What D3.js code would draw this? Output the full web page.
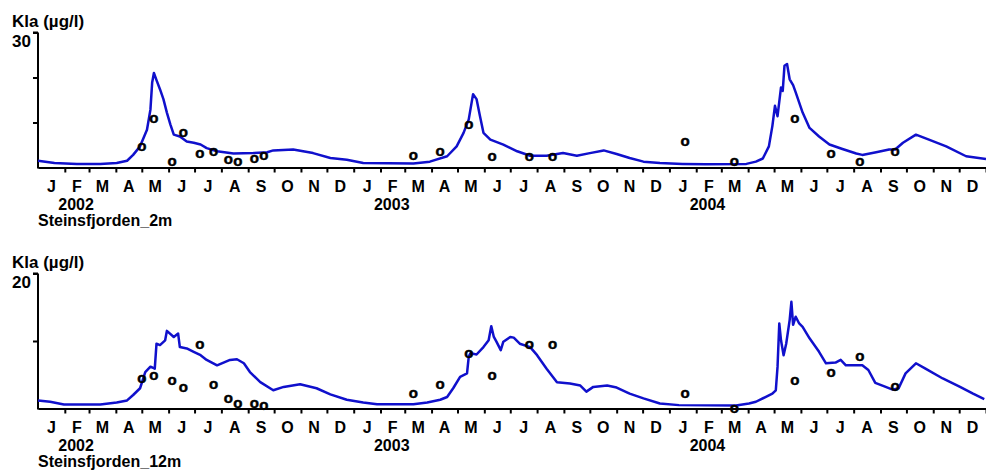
<!DOCTYPE html>
<html>
<head>
<meta charset="utf-8">
<script src="https://cdn.jsdelivr.net/npm/d3@7"></script>
<style>
  body { margin: 0; background: #fff; }
  svg text { font-family: "Liberation Sans", Arial, sans-serif; font-weight: bold; fill: #000; }
</style>
</head>
<body>
<div id="container"></div>
<script>
// sample dates (same for both depths)
var obsDates = ["2002-05-01","2002-05-15","2002-06-05","2002-06-18","2002-07-07","2002-07-23",
  "2002-08-09","2002-08-20","2002-09-08","2002-09-19",
  "2003-03-11","2003-04-11","2003-05-14","2003-06-10","2003-07-23","2003-08-19",
  "2004-01-19","2004-03-16","2004-05-25","2004-07-06","2004-08-08","2004-09-18"];

var obs2m = [4.7, 10.9, 1.3, 7.7, 3.1, 3.6, 1.7, 1.3, 2.1, 2.6,
  2.7, 3.6, 9.6, 2.5, 2.5, 2.5,
  5.8, 1.3, 10.9, 3.2, 1.3, 3.6];

var obs12m = [4.45, 4.9, 4.1, 3.1, 9.5, 3.6, 1.5, 0.8, 0.75, 0.45,
  2.2, 3.6, 8.1, 4.9, 9.5, 9.5,
  2.2, 0.0, 4.1, 5.3, 7.7, 3.2];

// simulated Kla, 2 m
var model2m = [
  ["2002-01-01",1.5],["2002-01-20",1.0],["2002-02-15",0.8],["2002-03-14",0.8],["2002-04-02",1.0],
  ["2002-04-14",1.5],["2002-04-21",2.8],["2002-04-29",4.7],["2002-05-07",8.4],["2002-05-11",12.9],
  ["2002-05-13",18.9],["2002-05-15",21.0],["2002-05-18",19.4],["2002-05-22",17.4],["2002-05-26",15.2],
  ["2002-05-30",12.2],["2002-06-03",9.6],["2002-06-07",7.3],["2002-06-14",6.9],["2002-06-22",5.8],
  ["2002-06-30",5.5],["2002-07-08",5.1],["2002-07-15",4.3],["2002-07-27",3.6],["2002-08-15",3.1],
  ["2002-09-07",3.2],["2002-09-23",3.4],["2002-09-30",3.8],["2002-10-23",4.0],["2002-11-15",3.2],
  ["2002-12-05",2.1],["2002-12-24",1.7],
  ["2003-01-12",1.0],["2003-03-11",0.9],["2003-03-30",1.3],["2003-04-19",2.5],["2003-04-30",4.7],
  ["2003-05-08",7.7],["2003-05-14",10.7],["2003-05-18",15.2],["2003-05-19",16.3],["2003-05-23",15.2],
  ["2003-05-27",11.4],["2003-05-31",7.7],["2003-06-08",6.2],["2003-06-23",5.1],["2003-07-09",3.6],
  ["2003-07-24",2.6],["2003-08-12",2.6],["2003-08-31",3.2],["2003-09-16",2.6],["2003-10-01",3.2],
  ["2003-10-17",3.8],["2003-11-01",3.0],["2003-11-16",2.1],["2003-12-02",1.3],["2003-12-21",1.0],
  ["2004-01-16",0.8],["2004-02-12",0.7],["2004-03-30",0.8],["2004-04-10",1.3],["2004-04-18",2.0],
  ["2004-04-25",4.7],["2004-04-29",9.2],["2004-05-02",13.7],["2004-05-05",11.4],["2004-05-09",17.8],
  ["2004-05-11",17.0],["2004-05-13",22.6],["2004-05-16",23.0],["2004-05-19",19.6],["2004-05-23",18.3],
  ["2004-05-26",16.7],["2004-06-03",12.2],["2004-06-11",8.8],["2004-06-22",6.9],["2004-07-04",5.1],
  ["2004-07-19",4.1],["2004-08-04",3.1],["2004-08-11",2.8],["2004-08-27",3.4],["2004-09-11",4.0],
  ["2004-09-18",4.0],["2004-09-27",5.5],["2004-10-12",7.3],["2004-10-27",6.2],["2004-11-16",4.7],
  ["2004-12-09",2.5],["2005-01-01",1.9]
];

// simulated Kla, 12 m
var model12m = [
  ["2002-01-01",1.2],["2002-01-15",1.0],["2002-01-31",0.6],["2002-03-14",0.6],["2002-04-02",0.9],
  ["2002-04-14",1.2],["2002-04-21",2.0],["2002-04-29",3.0],["2002-05-05",5.4],["2002-05-11",6.2],
  ["2002-05-16",5.9],["2002-05-18",9.6],["2002-05-22",9.4],["2002-05-28",10.1],["2002-05-30",11.5],
  ["2002-06-07",10.6],["2002-06-12",11.1],["2002-06-14",9.1],["2002-06-22",8.9],["2002-06-30",8.4],
  ["2002-07-08",7.9],["2002-07-15",7.2],["2002-07-27",6.4],["2002-08-11",7.2],["2002-08-19",7.3],
  ["2002-08-27",6.7],["2002-09-03",5.4],["2002-09-15",3.9],["2002-09-30",2.7],["2002-10-12",3.2],
  ["2002-10-31",3.6],["2002-11-19",3.0],["2002-12-05",2.1],["2002-12-24",1.3],
  ["2003-01-12",0.9],["2003-01-28",0.64],["2003-03-11",0.64],["2003-03-27",0.9],["2003-04-11",1.3],
  ["2003-04-19",1.7],["2003-04-26",3.0],["2003-05-04",4.7],["2003-05-12",5.2],["2003-05-14",7.7],
  ["2003-05-16",8.2],["2003-05-23",8.0],["2003-05-31",9.1],["2003-06-06",10.1],["2003-06-09",12.2],
  ["2003-06-12",10.6],["2003-06-15",9.9],["2003-06-20",8.65],["2003-06-23",9.9],["2003-07-01",10.6],
  ["2003-07-05",10.5],["2003-07-12",9.6],["2003-07-24",9.1],["2003-08-01",7.9],["2003-08-12",5.9],
  ["2003-08-24",3.9],["2003-09-08",3.7],["2003-09-20",3.4],["2003-09-27",2.5],["2003-10-05",3.2],
  ["2003-10-21",3.4],["2003-11-01",3.1],["2003-11-16",2.2],["2003-12-02",1.5],["2003-12-21",0.74],
  ["2004-01-12",0.5],["2004-03-18",0.45],["2004-04-02",0.74],["2004-04-10",1.0],["2004-04-21",1.7],
  ["2004-04-29",2.2],["2004-05-03",2.7],["2004-05-05",6.2],["2004-05-07",12.6],["2004-05-09",10.1],
  ["2004-05-12",7.9],["2004-05-15",9.6],["2004-05-19",13.1],["2004-05-21",15.8],["2004-05-23",12.4],
  ["2004-05-26",13.6],["2004-05-30",12.6],["2004-06-03",12.1],["2004-06-11",10.4],["2004-06-22",8.4],
  ["2004-06-30",6.7],["2004-07-11",6.8],["2004-07-17",7.2],["2004-07-23",6.4],["2004-08-11",6.4],
  ["2004-08-18",5.7],["2004-08-26",3.8],["2004-09-07",3.2],["2004-09-15",2.8],["2004-09-22",3.0],
  ["2004-09-30",5.2],["2004-10-12",6.7],["2004-10-23",5.9],["2004-11-12",4.45],["2004-12-02",3.2],
  ["2004-12-17",2.2],["2004-12-30",1.4]
];

var monthLetters = ["J","F","M","A","M","J","J","A","S","O","N","D"];
var years = ["2002","2003","2004"];

var panels = [
  { station: "Steinsfjorden_2m", max: 30, ticks: [10, 20, 30], model: model2m, obs: obs2m, top: 32.5 },
  { station: "Steinsfjorden_12m", max: 20, ticks: [10, 20], model: model12m, obs: obs12m, top: 273.5 }
];

var width = 986, height = 474;
var parse = d3.timeParse("%Y-%m-%d");

var svg = d3.select("#container").append("svg")
  .attr("width", width)
  .attr("height", height);

var x = d3.scaleTime()
  .domain([parse("2002-01-01"), parse("2005-01-01")])
  .range([38, 986]);

var months = d3.timeMonth.range(parse("2002-01-01"), parse("2005-01-01"));

panels.forEach(function(p) {
  var base = p.top + 135;
  var y = d3.scaleLinear().domain([0, p.max]).range([base, p.top]);
  var g = svg.append("g");

  // x axis with month ticks
  var xAxis = g.append("g")
    .attr("transform", "translate(0," + base + ")")
    .call(d3.axisBottom(x)
      .tickValues(months.slice(1).concat([parse("2005-01-01")]))
      .tickSize(5).tickSizeOuter(0).tickFormat(""));
  xAxis.selectAll("path, line").attr("stroke", "#000").attr("stroke-width", 2);

  // y axis
  var yAxis = g.append("g")
    .attr("transform", "translate(38,0)")
    .call(d3.axisLeft(y).tickValues(p.ticks).tickSize(5).tickSizeOuter(0).tickFormat(""));
  yAxis.selectAll("path, line").attr("stroke", "#000").attr("stroke-width", 2);
  yAxis.select(".domain").attr("d", "M0," + (base + 1) + "V" + p.top);
  // top hook
  g.append("line")
    .attr("x1", 33).attr("x2", 38)
    .attr("y1", y(p.max)).attr("y2", y(p.max))
    .attr("stroke", "#000").attr("stroke-width", 2);

  g.append("text")
    .attr("x", 12).attr("y", p.top - 6)
    .style("font-size", "17px")
    .text("Kla (\u00b5g/l)");
  g.append("text")
    .attr("x", 12).attr("y", p.top + 14)
    .style("font-size", "17px")
    .text(p.max);

  // month letters
  g.selectAll(".month")
    .data(months)
    .enter().append("text")
    .attr("class", "month")
    .attr("x", function(d) { return (x(d) + x(d3.timeMonth.offset(d, 1))) / 2; })
    .attr("y", base + 24)
    .attr("text-anchor", "middle")
    .style("font-size", "16px")
    .text(function(d) { return monthLetters[d.getMonth()]; });

  g.selectAll(".year")
    .data(years)
    .enter().append("text")
    .attr("class", "year")
    .attr("x", function(d) { return x(parse(d + "-02-14")); })
    .attr("y", base + 42)
    .attr("text-anchor", "middle")
    .style("font-size", "16px")
    .text(function(d) { return d; });

  g.append("text")
    .attr("x", 38).attr("y", base + 58)
    .style("font-size", "16px")
    .text(p.station);

  // simulated line
  var line = d3.line()
    .x(function(d) { return x(parse(d[0])); })
    .y(function(d) { return y(d[1]); });

  g.append("path")
    .datum(p.model)
    .attr("d", line)
    .attr("fill", "none")
    .attr("stroke", "#1010cc")
    .attr("stroke-width", 2.5)
    .attr("stroke-linejoin", "round");

  // observations as "o"
  g.selectAll(".obs")
    .data(p.obs)
    .enter().append("text")
    .attr("class", "obs")
    .attr("x", function(d, i) { return x(parse(obsDates[i])); })
    .attr("y", function(d) { return y(d) + 4.5; })
    .attr("text-anchor", "middle")
    .style("font-size", "15px")
    .style("stroke", "#000")
    .style("stroke-width", 0.5)
    .text("o");
});
</script>
</body>
</html>
